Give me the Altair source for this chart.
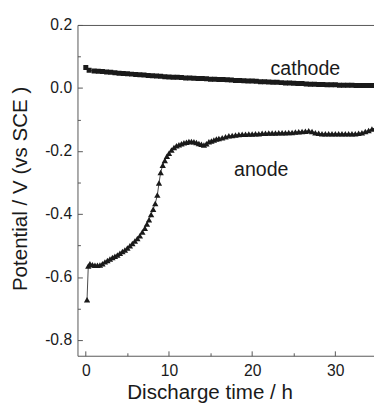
import altair as alt
import pandas as pd

# ---- data ----
anode_t = [0.15, 0.3, 0.5, 0.8, 1.1, 1.4, 1.7, 2.0, 2.3, 2.6, 2.9, 3.2, 3.5, 3.8, 4.1, 4.4,
           4.7, 5.0, 5.3, 5.6, 5.9, 6.2, 6.5, 6.8, 7.1, 7.35, 7.6, 7.85, 8.1, 8.35, 8.6,
           8.8, 9.0, 9.25, 9.5, 9.75, 10.0, 10.3, 10.6, 10.9, 11.2, 11.5, 11.8, 12.1,
           12.4, 12.7, 13.0, 13.3, 13.6, 13.9, 14.2, 14.5, 14.8, 15.1, 15.4, 15.7, 16.0,
           16.4, 16.8, 17.2, 17.6, 18.0, 18.4, 18.8, 19.2, 19.6, 20.0, 20.4, 20.8, 21.2,
           21.6, 22.0, 22.4, 22.8, 23.2, 23.6, 24.0, 24.4, 24.8, 25.2, 25.6, 26.0, 26.4,
           26.8, 27.2, 27.6, 28.0, 28.4, 28.8, 29.2, 29.6, 30.0, 30.4, 30.8, 31.2, 31.6,
           32.0, 32.4, 32.8, 33.2, 33.6, 34.0, 34.4, 34.8]
anode_v = [-0.672, -0.565, -0.558, -0.561, -0.563, -0.563, -0.562, -0.558, -0.552, -0.548,
           -0.543, -0.538, -0.534, -0.530, -0.525, -0.519, -0.514, -0.508, -0.501, -0.494,
           -0.486, -0.478, -0.469, -0.457, -0.445, -0.432, -0.418, -0.402, -0.385, -0.367,
           -0.340, -0.302, -0.268, -0.245, -0.230, -0.217, -0.207, -0.197, -0.189, -0.183,
           -0.180, -0.177, -0.174, -0.172, -0.170, -0.170, -0.171, -0.173, -0.176, -0.179,
           -0.181, -0.177, -0.171, -0.168, -0.165, -0.162, -0.160, -0.158, -0.155, -0.152,
           -0.151, -0.149, -0.148, -0.147, -0.147, -0.146, -0.146, -0.145, -0.145, -0.144,
           -0.144, -0.143, -0.143, -0.143, -0.142, -0.142, -0.142, -0.141, -0.141, -0.140,
           -0.139, -0.138, -0.137, -0.136, -0.138, -0.142, -0.144, -0.145, -0.145, -0.145,
           -0.145, -0.145, -0.145, -0.145, -0.145, -0.145, -0.145, -0.145, -0.144, -0.142,
           -0.138, -0.135, -0.130, -0.127]

cathode_t = [0.0, 0.4, 1.0, 1.5, 2.0, 2.5, 3.0, 3.5, 4.0, 4.5, 5.0, 5.5, 6.0, 6.5, 7.0, 7.5,
             8.0, 8.5, 9.0, 9.5, 10.0, 10.5, 11.0, 11.5, 12.0, 12.5, 13.0, 13.5, 14.0, 14.5,
             15.0, 15.5, 16.0, 16.5, 17.0, 17.5, 18.0, 18.5, 19.0, 19.5, 20.0, 20.5, 21.0,
             21.5, 22.0, 22.5, 23.0, 23.5, 24.0, 24.5, 25.0, 25.5, 26.0, 26.5, 27.0, 27.5,
             28.0, 28.5, 29.0, 29.5, 30.0, 30.5, 31.0, 31.5, 32.0, 32.5, 33.0, 33.5, 34.0,
             34.5, 35.0]
cathode_v = [0.065, 0.056, 0.054, 0.053, 0.052, 0.051, 0.050, 0.048, 0.047, 0.046, 0.045,
             0.044, 0.043, 0.042, 0.041, 0.040, 0.039, 0.038, 0.037, 0.036, 0.035, 0.034,
             0.034, 0.033, 0.032, 0.032, 0.031, 0.030, 0.030, 0.029, 0.028, 0.028, 0.027,
             0.027, 0.026, 0.025, 0.024, 0.024, 0.023, 0.022, 0.022, 0.021, 0.020, 0.020,
             0.019, 0.018, 0.018, 0.017, 0.016, 0.016, 0.015, 0.014, 0.014, 0.013, 0.012,
             0.012, 0.011, 0.011, 0.010, 0.010, 0.010, 0.009, 0.009, 0.009, 0.009, 0.008,
             0.008, 0.008, 0.008, 0.008, 0.008]

label_text = ["cathode", "anode"]
label_t = [26.4, 21.1]
label_v = [0.040, -0.279]

x_major = [0, 10, 20, 30]
x_minor = [5, 15, 25]
y_major = [-0.8, -0.6, -0.4, -0.2, 0.0, 0.2]
y_minor = [-0.7, -0.5, -0.3, -0.1, 0.1]

X_DOMAIN = [-1, 34.65]
Y_DOMAIN = [-0.85, 0.2]

FONT = "Liberation Sans"
INK = "#1a1a1a"
AXC = "#555555"

anode = pd.DataFrame({"t": anode_t, "v": anode_v})
cathode = pd.DataFrame({"t": cathode_t, "v": cathode_v})
labels = pd.DataFrame({"text": label_text, "t": label_t, "v": label_v})

xs = alt.Scale(domain=X_DOMAIN, nice=False, zero=False)
ys = alt.Scale(domain=Y_DOMAIN, nice=False, zero=False)


def enc(xaxis, yaxis):
    return dict(
        x=alt.X("t:Q", scale=xs, axis=xaxis),
        y=alt.Y("v:Q", scale=ys, axis=yaxis),
    )


# data layers
anode_line = alt.Chart(anode).mark_line(color=INK, strokeWidth=0.8, clip=True).encode(**enc(None, None))
anode_pts = alt.Chart(anode).mark_point(shape="triangle-up", filled=True, color=INK, size=42,
                                        opacity=1, clip=True).encode(**enc(None, None))
cath_line = alt.Chart(cathode).mark_line(color=INK, strokeWidth=0.8, clip=True).encode(**enc(None, None))
cath_pts = alt.Chart(cathode).mark_point(shape="square", filled=True, color=INK, size=26,
                                         opacity=1, clip=True).encode(**enc(None, None))
texts = alt.Chart(labels).mark_text(font=FONT, fontSize=20, color=INK, align="center",
                                    baseline="alphabetic").encode(text="text:N", **enc(None, None))

YLAB = "(datum.value < -0.001 ? '-' : '') + format(abs(datum.value), '.1f')"

# axis carrier layers
main_axes = alt.Chart(labels).mark_point(opacity=0).encode(**enc(
    alt.Axis(orient="bottom", values=x_major, ticks=False, tickSize=0, grid=False, domain=True,
             domainColor=AXC, labelFont=FONT, labelFontSize=16, labelColor=INK, labelPadding=7,
             title="Discharge time / h", titleFont=FONT, titleFontSize=21, titleFontWeight="normal",
             titleColor=INK, titleX=135, titleY=44, titleBaseline="alphabetic", titleAlign="center"),
    alt.Axis(orient="left", values=y_major, ticks=False, tickSize=0, grid=False, domain=True,
             domainColor=AXC, labelFont=FONT, labelFontSize=16, labelColor=INK, labelPadding=6,
             labelExpr=YLAB,
             title="Potential / V (vs SCE )", titleFont=FONT, titleFontSize=21,
             titleFontWeight="normal", titleColor=INK, titleX=-52, titleY=167,
             titleBaseline="alphabetic", titleAlign="center", titleAngle=270),
))

major_ticks = alt.Chart(labels).mark_point(opacity=0).encode(**enc(
    alt.Axis(orient="bottom", values=x_major, offset=-5, tickSize=5, tickColor=AXC, domain=False,
             labels=False, grid=False, title=None),
    alt.Axis(orient="left", values=y_major, offset=-5, tickSize=5, tickColor=AXC, domain=False,
             labels=False, grid=False, title=None),
))

minor_ticks = alt.Chart(labels).mark_point(opacity=0).encode(**enc(
    alt.Axis(orient="bottom", values=x_minor, offset=-3, tickSize=3, tickColor=AXC, domain=False,
             labels=False, grid=False, title=None),
    alt.Axis(orient="left", values=y_minor, offset=-3, tickSize=3, tickColor=AXC, domain=False,
             labels=False, grid=False, title=None),
))

top_border = alt.Chart(labels).mark_point(opacity=0).encode(**enc(
    alt.Axis(orient="top", ticks=False, labels=False, grid=False, domain=True, domainColor=AXC,
             title=None),
    None,
))

chart = alt.layer(
    main_axes, major_ticks, minor_ticks, top_border,
    anode_line, anode_pts, cath_line, cath_pts, texts,
).resolve_axis(x="independent", y="independent").properties(
    width=303,
    height=338,
    padding={"left": 71, "top": 13, "right": 0, "bottom": 47},
    autosize=alt.AutoSizeParams(type="none"),
    background="white",
).configure_view(stroke=None)

chart.save("out.html", embed_options={"renderer": "svg", "actions": False})
